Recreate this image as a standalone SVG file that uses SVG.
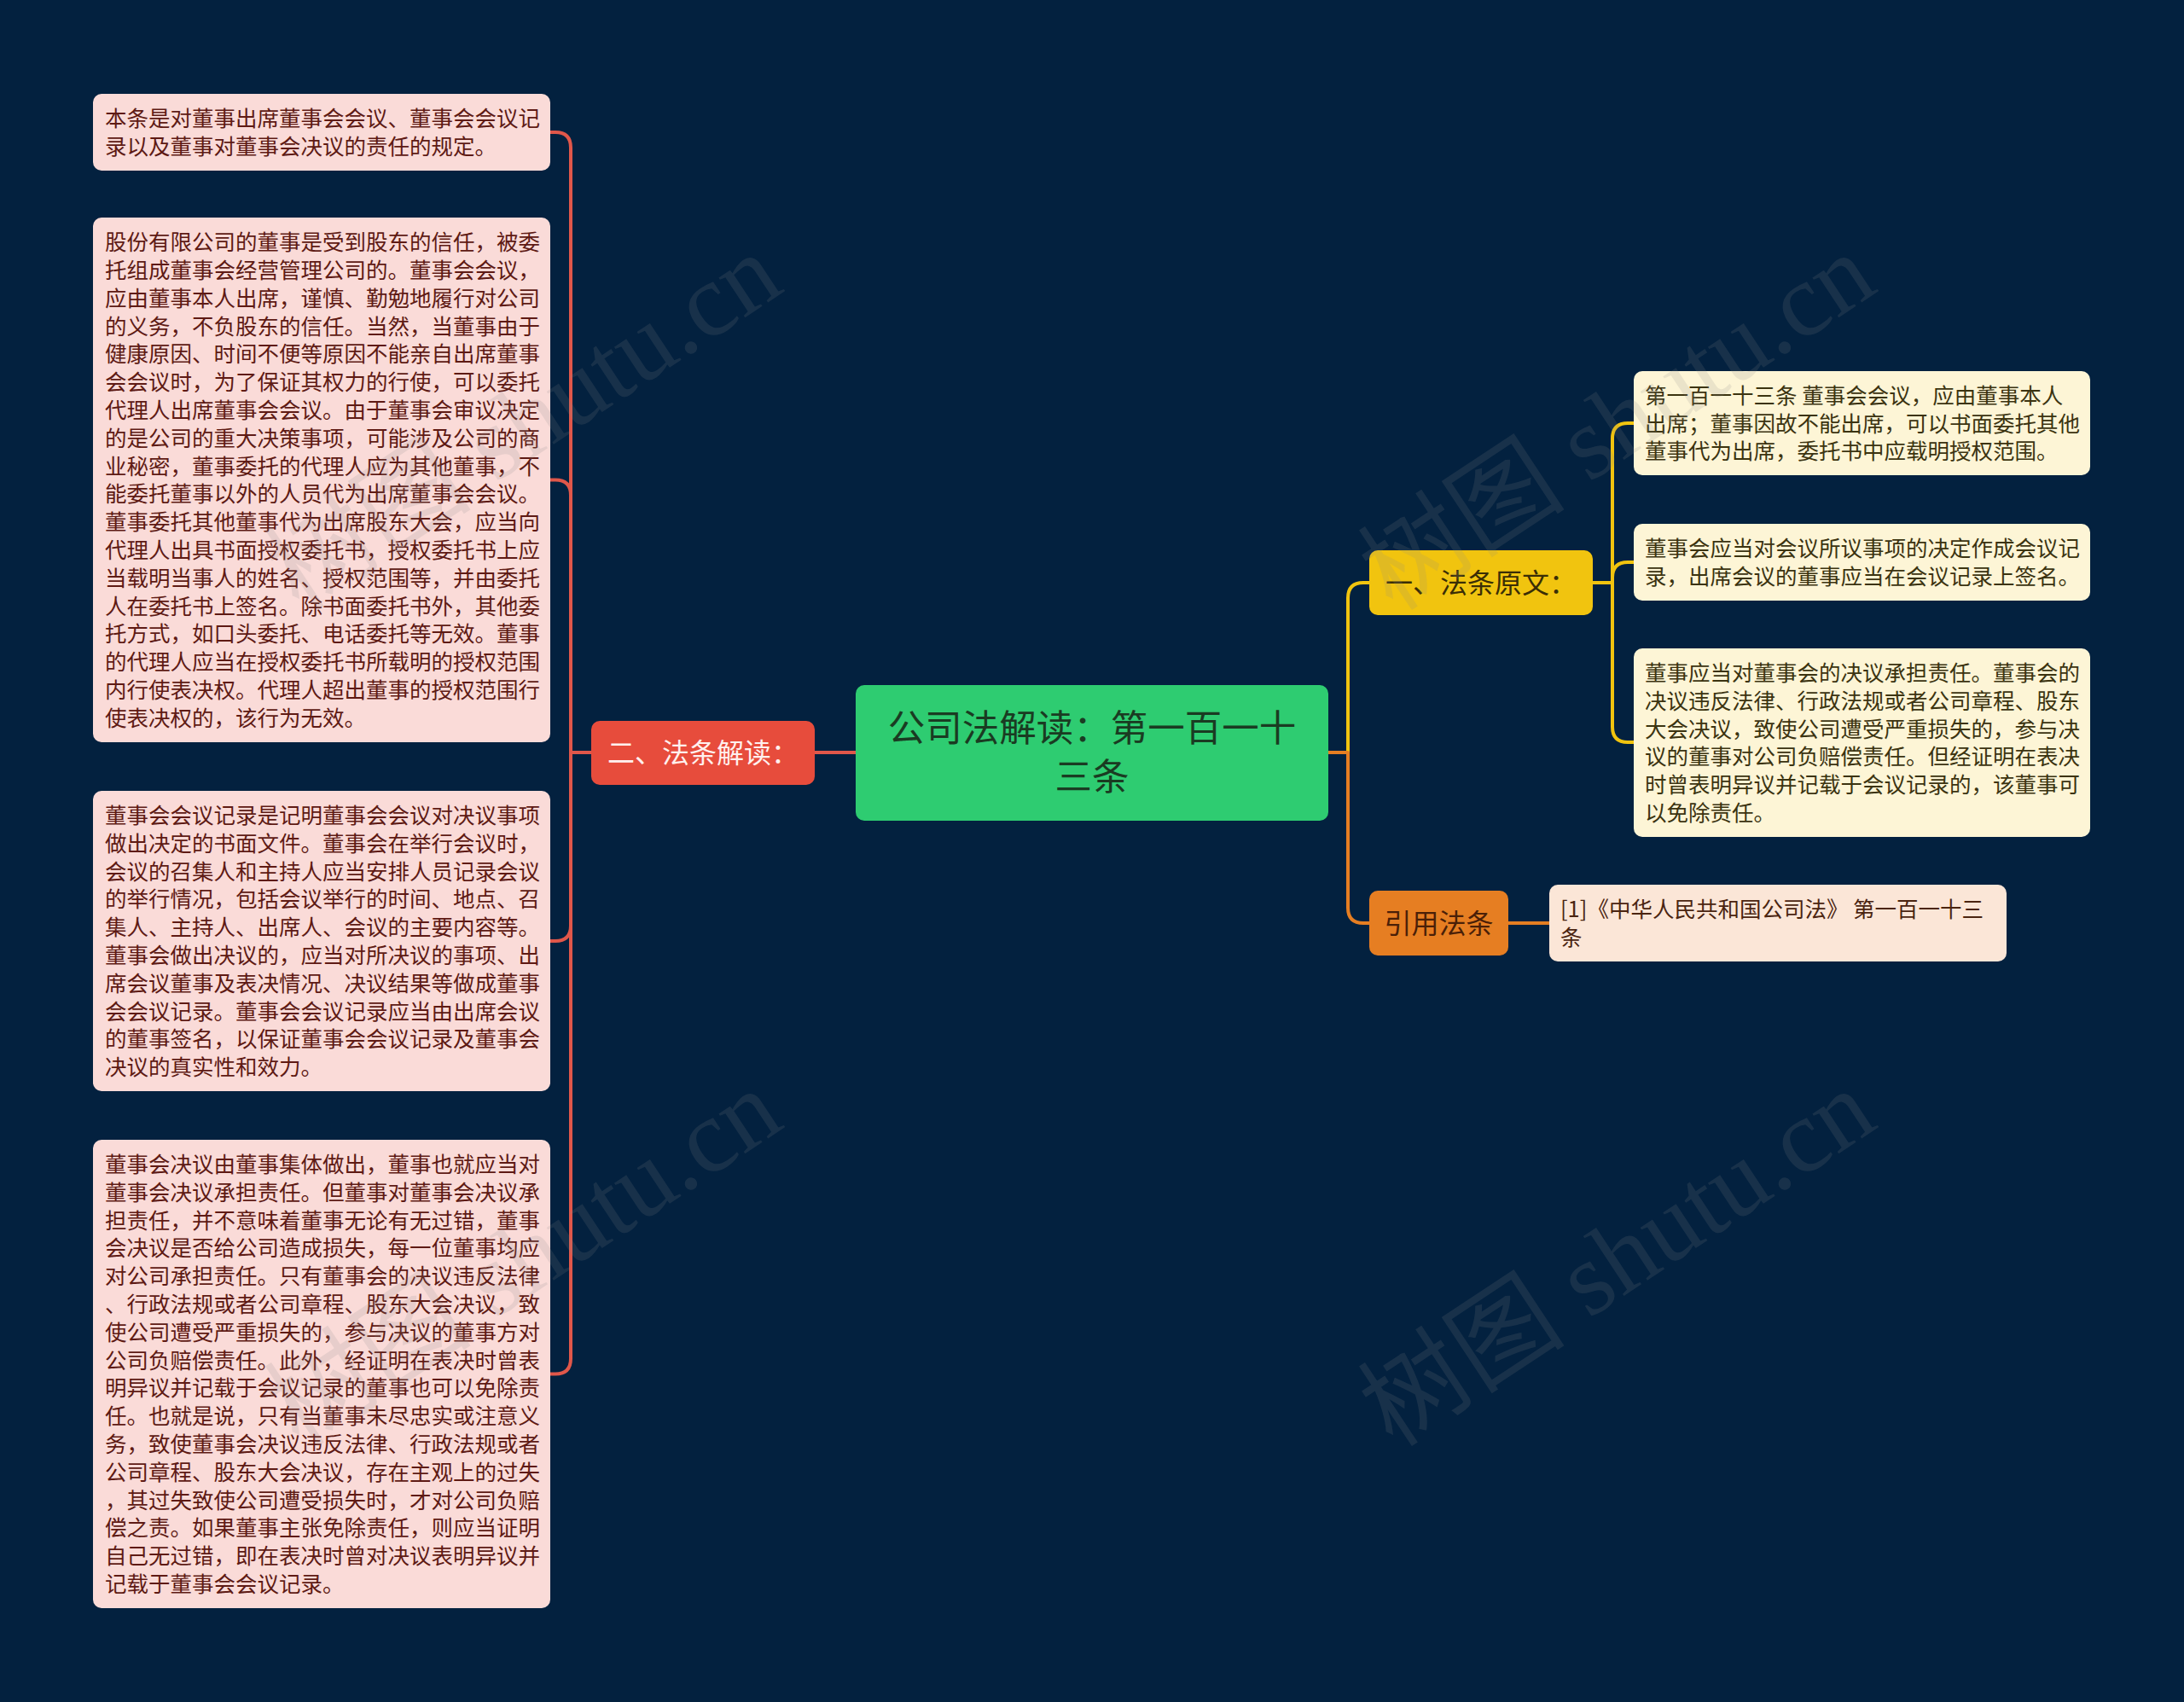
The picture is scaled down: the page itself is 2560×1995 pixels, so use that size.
<svg xmlns="http://www.w3.org/2000/svg" width="2560" height="1995" viewBox="0 0 2560 1995">
<style>
.bg{fill:#03213f}
.lbox{fill:#fadbd8}
.ltxt{fill:#5e1a14;font-family:"Noto Sans CJK SC","Noto Sans",sans-serif;font-size:25.5px}
.rbox{fill:#fdf5d6}
.rtxt{fill:#3b3310;font-family:"Noto Sans CJK SC","Noto Sans",sans-serif;font-size:25.5px}
.cbox{fill:#fbe6d7}
.ctxt{fill:#4a2410;font-family:"Noto Sans CJK SC","Noto Sans",sans-serif;font-size:25.5px}
.ntxt{font-family:"Noto Sans CJK SC","Noto Sans",sans-serif;font-size:32px;text-anchor:middle}
.link{fill:none;stroke-width:4;stroke-linecap:round;stroke-linejoin:round}
.red{stroke:#e0574a}
.yel{stroke:#f1c40f}
.org{stroke:#e67e22}
.wm{fill:#8a8a8a;fill-opacity:0.16;font-family:"Liberation Serif","Noto Sans CJK SC",serif;font-size:122px}
</style>
<rect class="bg" x="0" y="0" width="2560" height="1995"/>
<g id="connectors">
<path class="link red" d="M1003,882 H955"/>
<path class="link red" d="M693,882 H669 V173 Q669,155 651,155 H645"/>
<path class="link red" d="M693,882 H669 V580.5 Q669,562.5 651,562.5 H645"/>
<path class="link red" d="M693,882 H669 V1085 Q669,1103 651,1103 H645"/>
<path class="link red" d="M693,882 H669 V1592.5 Q669,1610.5 651,1610.5 H645"/>
<path class="link yel" d="M1557,882 H1580 V701 Q1580,683 1598,683 H1605"/>
<path class="link org" d="M1557,882 H1580 V1064 Q1580,1082 1598,1082 H1605"/>
<path class="link yel" d="M1867,683 H1890 V514 Q1890,496 1908,496 H1915"/>
<path class="link yel" d="M1867,683 H1890 V677 Q1890,659 1908,659 H1915"/>
<path class="link yel" d="M1867,683 H1890 V852 Q1890,870 1908,870 H1915"/>
<path class="link org" d="M1768,1082 H1816"/>
</g>
<g id="center">
<rect x="1003" y="803" width="554" height="159" rx="10" fill="#2ecc71"/>
<text x="1280" y="868.5" font-family="Noto Sans CJK SC, sans-serif" font-size="43.5" fill="#1a3b22" text-anchor="middle">公司法解读：第一百一十</text>
<text x="1280" y="926" font-family="Noto Sans CJK SC, sans-serif" font-size="43.5" fill="#1a3b22" text-anchor="middle">三条</text>
</g>
<g id="node-jiedu">
<rect x="693" y="845" width="262" height="75" rx="10" fill="#e74c3c"/>
<text class="ntxt" x="824" y="894" fill="#fff0ee">二、法条解读：</text>
</g>
<g id="node-yuanwen">
<rect x="1605" y="645" width="262" height="76" rx="10" fill="#f1c40f"/>
<text class="ntxt" x="1736" y="695" fill="#3a2e06">一、法条原文：</text>
</g>
<g id="node-yinyong">
<rect x="1605" y="1044" width="163" height="76" rx="10" fill="#e67e22"/>
<text class="ntxt" x="1686.5" y="1094" fill="#4a2008">引用法条</text>
</g>
<g id="left-a">
<rect class="lbox" x="109" y="110" width="536" height="90" rx="10"/>
<text class="ltxt" x="123" y="148.1">本条是对董事出席董事会会议、董事会会议记<tspan x="123" dy="32.8">录以及董事对董事会决议的责任的规定。</tspan></text>
</g>
<g id="left-b">
<rect class="lbox" x="109" y="255" width="536" height="615" rx="10"/>
<text class="ltxt" x="123" y="293.2">股份有限公司的董事是受到股东的信任，被委<tspan x="123" dy="32.8">托组成董事会经营管理公司的。董事会会议，</tspan><tspan x="123" dy="32.8">应由董事本人出席，谨慎、勤勉地履行对公司</tspan><tspan x="123" dy="32.8">的义务，不负股东的信任。当然，当董事由于</tspan><tspan x="123" dy="32.8">健康原因、时间不便等原因不能亲自出席董事</tspan><tspan x="123" dy="32.8">会会议时，为了保证其权力的行使，可以委托</tspan><tspan x="123" dy="32.8">代理人出席董事会会议。由于董事会审议决定</tspan><tspan x="123" dy="32.8">的是公司的重大决策事项，可能涉及公司的商</tspan><tspan x="123" dy="32.8">业秘密，董事委托的代理人应为其他董事，不</tspan><tspan x="123" dy="32.8">能委托董事以外的人员代为出席董事会会议。</tspan><tspan x="123" dy="32.8">董事委托其他董事代为出席股东大会，应当向</tspan><tspan x="123" dy="32.8">代理人出具书面授权委托书，授权委托书上应</tspan><tspan x="123" dy="32.8">当载明当事人的姓名、授权范围等，并由委托</tspan><tspan x="123" dy="32.8">人在委托书上签名。除书面委托书外，其他委</tspan><tspan x="123" dy="32.8">托方式，如口头委托、电话委托等无效。董事</tspan><tspan x="123" dy="32.8">的代理人应当在授权委托书所载明的授权范围</tspan><tspan x="123" dy="32.8">内行使表决权。代理人超出董事的授权范围行</tspan><tspan x="123" dy="32.8">使表决权的，该行为无效。</tspan></text>
</g>
<g id="left-c">
<rect class="lbox" x="109" y="927" width="536" height="352" rx="10"/>
<text class="ltxt" x="123" y="964.9">董事会会议记录是记明董事会会议对决议事项<tspan x="123" dy="32.8">做出决定的书面文件。董事会在举行会议时，</tspan><tspan x="123" dy="32.8">会议的召集人和主持人应当安排人员记录会议</tspan><tspan x="123" dy="32.8">的举行情况，包括会议举行的时间、地点、召</tspan><tspan x="123" dy="32.8">集人、主持人、出席人、会议的主要内容等。</tspan><tspan x="123" dy="32.8">董事会做出决议的，应当对所决议的事项、出</tspan><tspan x="123" dy="32.8">席会议董事及表决情况、决议结果等做成董事</tspan><tspan x="123" dy="32.8">会会议记录。董事会会议记录应当由出席会议</tspan><tspan x="123" dy="32.8">的董事签名，以保证董事会会议记录及董事会</tspan><tspan x="123" dy="32.8">决议的真实性和效力。</tspan></text>
</g>
<g id="left-d">
<rect class="lbox" x="109" y="1336" width="536" height="549" rx="10"/>
<text class="ltxt" x="123" y="1374">董事会决议由董事集体做出，董事也就应当对<tspan x="123" dy="32.8">董事会决议承担责任。但董事对董事会决议承</tspan><tspan x="123" dy="32.8">担责任，并不意味着董事无论有无过错，董事</tspan><tspan x="123" dy="32.8">会决议是否给公司造成损失，每一位董事均应</tspan><tspan x="123" dy="32.8">对公司承担责任。只有董事会的决议违反法律</tspan><tspan x="123" dy="32.8">、行政法规或者公司章程、股东大会决议，致</tspan><tspan x="123" dy="32.8">使公司遭受严重损失的，参与决议的董事方对</tspan><tspan x="123" dy="32.8">公司负赔偿责任。此外，经证明在表决时曾表</tspan><tspan x="123" dy="32.8">明异议并记载于会议记录的董事也可以免除责</tspan><tspan x="123" dy="32.8">任。也就是说，只有当董事未尽忠实或注意义</tspan><tspan x="123" dy="32.8">务，致使董事会决议违反法律、行政法规或者</tspan><tspan x="123" dy="32.8">公司章程、股东大会决议，存在主观上的过失</tspan><tspan x="123" dy="32.8">，其过失致使公司遭受损失时，才对公司负赔</tspan><tspan x="123" dy="32.8">偿之责。如果董事主张免除责任，则应当证明</tspan><tspan x="123" dy="32.8">自己无过错，即在表决时曾对决议表明异议并</tspan><tspan x="123" dy="32.8">记载于董事会会议记录。</tspan></text>
</g>
<g id="right-1">
<rect class="rbox" x="1915" y="435" width="535" height="122" rx="10"/>
<text class="rtxt" x="1928" y="472.7">第一百一十三条 董事会会议，应由董事本人<tspan x="1928" dy="32.8">出席；董事因故不能出席，可以书面委托其他</tspan><tspan x="1928" dy="32.8">董事代为出席，委托书中应载明授权范围。</tspan></text>
</g>
<g id="right-2">
<rect class="rbox" x="1915" y="614" width="535" height="90" rx="10"/>
<text class="rtxt" x="1928" y="652.1">董事会应当对会议所议事项的决定作成会议记<tspan x="1928" dy="32.8">录，出席会议的董事应当在会议记录上签名。</tspan></text>
</g>
<g id="right-3">
<rect class="rbox" x="1915" y="760" width="535" height="221" rx="10"/>
<text class="rtxt" x="1928" y="798">董事应当对董事会的决议承担责任。董事会的<tspan x="1928" dy="32.8">决议违反法律、行政法规或者公司章程、股东</tspan><tspan x="1928" dy="32.8">大会决议，致使公司遭受严重损失的，参与决</tspan><tspan x="1928" dy="32.8">议的董事对公司负赔偿责任。但经证明在表决</tspan><tspan x="1928" dy="32.8">时曾表明异议并记载于会议记录的，该董事可</tspan><tspan x="1928" dy="32.8">以免除责任。</tspan></text>
</g>
<g id="right-4">
<rect class="cbox" x="1816" y="1037" width="536" height="90" rx="10"/>
<text class="ctxt" x="1829" y="1075.1">[1]《中华人民共和国公司法》 第一百一十三<tspan x="1829" dy="32.8">条</tspan></text>
</g>
<g id="watermarks">
<text class="wm" transform="translate(351,718) rotate(-33.5)">树图 shutu.cn</text>
<text class="wm" transform="translate(351,1698) rotate(-33.5)">树图 shutu.cn</text>
<text class="wm" transform="translate(1633,718) rotate(-33.5)">树图 shutu.cn</text>
<text class="wm" transform="translate(1633,1698) rotate(-33.5)">树图 shutu.cn</text>
</g>
</svg>
